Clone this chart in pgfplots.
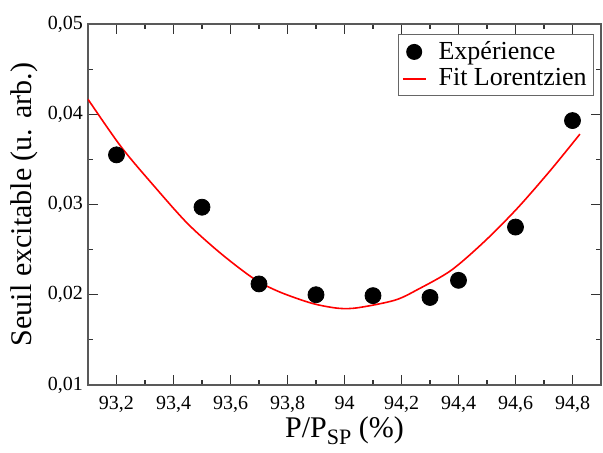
\documentclass[border=0pt]{standalone}
\usepackage{fontspec}
\setmainfont{Liberation Serif}
\usepackage{pgfplots}
\pgfplotsset{compat=1.18}
\begin{document}
\begin{tikzpicture}
\path[use as bounding box] (-44pt,-34pt) rectangle (257.5pt,192.5pt);
\begin{axis}[
  at={(0,0)}, anchor=south west,
  scale only axis,
  width=256.5pt, height=180.5pt,
  xmin=93.1, xmax=94.9, ymin=0.01, ymax=0.05,
  xtick={93.2,93.4,93.6,93.8,94,94.2,94.4,94.6,94.8},
  minor x tick num=1,
  ytick={0.01,0.02,0.03,0.04,0.05},
  minor y tick num=1,
  tick align=inside,
  major tick length=5pt, minor tick length=2.5pt,
  axis line style={black!65, line width=0.7pt},
  every tick/.style={black!80, line width=0.6pt},
  /pgf/number format/assume math mode=true,
  /pgf/number format/use comma,
  xticklabel style={/pgf/number format/precision=1, font=\fontsize{10}{12}\selectfont, yshift=-2pt},
  yticklabel style={/pgf/number format/fixed, /pgf/number format/fixed zerofill, /pgf/number format/precision=2, font=\fontsize{10}{12}\selectfont, xshift=1pt},
  scaled y ticks=false,
  xlabel={P/P\raisebox{-0.5ex}{\fontsize{11}{12}\selectfont SP} (\%)},
  ylabel={Seuil excitable (u. arb.)},
  label style={font=\fontsize{15}{18}\selectfont},
  xlabel style={yshift=4.5pt},
  ylabel style={yshift=-2pt},
  legend style={at={(1,1)}, anchor=north east, xshift=-3.5pt, yshift=-5pt,
    draw=black!60, font=\fontsize{13}{15}\selectfont, inner sep=1.5pt, row sep=-1pt,
    /tikz/every odd column/.append style={column sep=4pt}},
  legend cell align=left,
]
\addplot[only marks, mark=*, mark size=4pt, mark options={fill=black, draw=black},
  legend image code/.code={\path[draw=none, fill=none] (0cm,0cm) -- (0.4cm,0cm); \fill[black, draw=none] (0.2cm,0cm) circle (4pt);}] coordinates {
(93.2,0.0355) (93.5,0.0297) (93.7,0.0212) (93.9,0.0200) (94.1,0.0199)
(94.3,0.0197) (94.4,0.0216) (94.6,0.0275) (94.8,0.0393)
};
\addlegendentry{Expérience}
\addlegendimage{legend image code/.code={\draw[red, line width=1pt] (0cm,0cm) -- (0.4cm,0cm);}}
\addlegendentry{Fit Lorentzien}
\addplot[red, line width=0.8pt, smooth, no marks, forget plot] coordinates {
(93.100,0.04166) (93.216,0.0364) (93.333,0.0320) (93.449,0.0279)
(93.565,0.0246) (93.681,0.0218) (93.770,0.02034) (93.886,0.01905)
(93.979,0.0185) (94.049,0.01857) (94.177,0.0194) (94.258,0.0206)
(94.374,0.0227) (94.491,0.0259) (94.607,0.0296) (94.723,0.0338)
(94.826,0.0378)
};
\end{axis}
\end{tikzpicture}
\end{document}
